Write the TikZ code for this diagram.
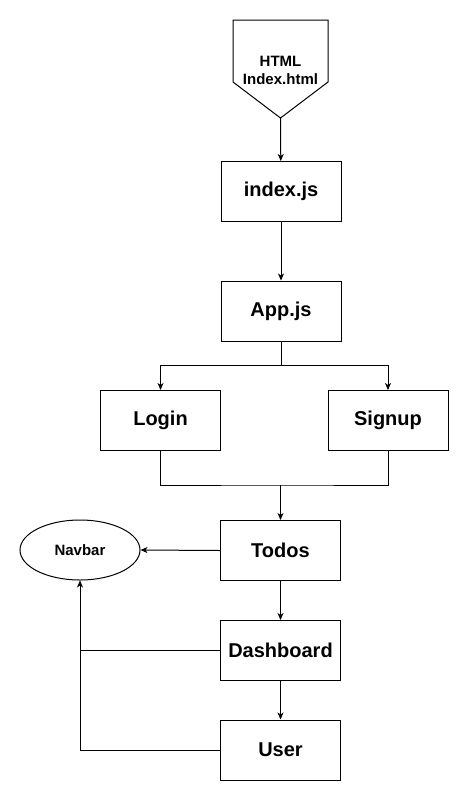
\documentclass[tikz,border=0pt]{standalone}
\usepackage{fontspec}
\setmainfont{Liberation Sans}
\usetikzlibrary{arrows.meta,shapes.geometric}
\begin{document}
\begin{tikzpicture}[x=1pt,y=-1pt,
  box/.style={draw=black,line width=1pt,rectangle,minimum width=120pt,minimum height=60pt,inner sep=0pt,font=\fontsize{20}{24}\selectfont\bfseries},
  conn/.style={draw=black,line width=1pt},
  arr/.style={conn,-{Stealth[length=7pt,width=6pt,inset=2pt]}}]
\useasboundingbox (0,0) rectangle (469,801);
\fill[white] (0,0) rectangle (469,801);
% pentagon
\draw[line width=1pt] (233,20) -- (328,20) -- (328,82) -- (280.5,118) -- (233,82) -- cycle;
\coordinate (tip) at (280.5,118);
\node[align=center,font=\fontsize{15}{18}\selectfont\bfseries] (html) at (280.5,70) {HTML\\Index.html};
\node[box] (index) at (281,191.5) {index.js};
\node[box] (app) at (281,311) {App.js};
\node[box] (login) at (160.5,420.5) {Login};
\node[box] (signup) at (388,420.5) {Signup};
\node[box] (todos) at (280.5,550.5) {Todos};
\node[box] (dash) at (280.5,650.5) {Dashboard};
\node[box] (user) at (280.5,750) {User};
\node[draw=black,line width=1pt,ellipse,minimum width=120pt,minimum height=60pt,inner sep=0pt,font=\fontsize{15}{18}\selectfont\bfseries] (navbar) at (80,550) {Navbar};
\coordinate (j) at (280.5,485);
\draw[arr] (tip) -- (index);
\draw[arr] (index) -- (app);
\draw[arr] (app.south) -- ++(0,24) -| (login.north);
\draw[arr] (app.south) -- ++(0,24) -| (signup.north);
\draw[conn] (login.south) |- (j) -| (signup.south);
\draw[arr] (j) -- (todos.north);
\draw[arr] (todos.west) -- (navbar.east);
\draw[arr] (todos) -- (dash);
\draw[arr] (dash) -- (user);
\draw[arr] (user.west) -| (navbar.south);
\draw[conn] (dash.west) -- (navbar.south |- dash.west);
\end{tikzpicture}
\end{document}
